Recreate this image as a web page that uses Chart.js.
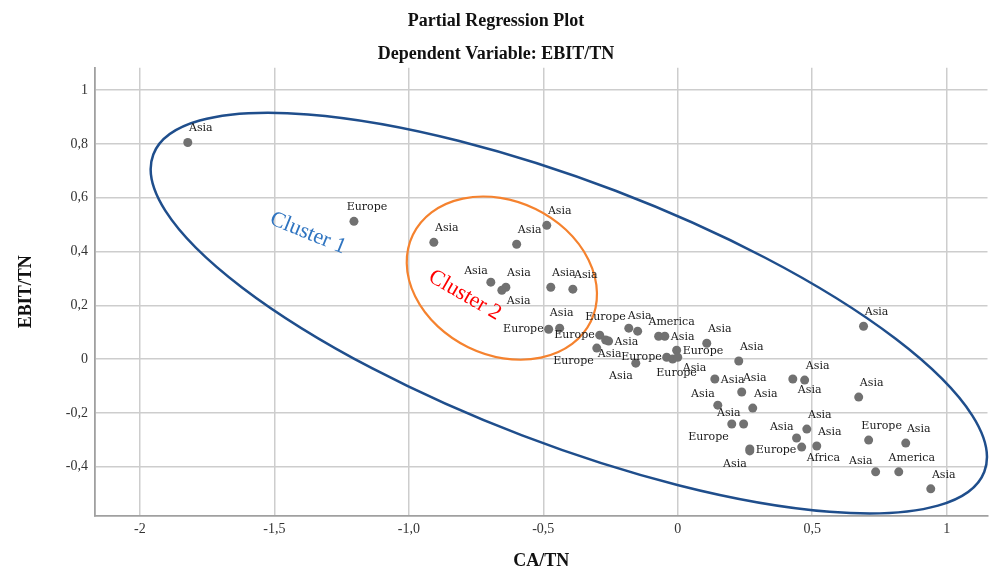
<!DOCTYPE html>
<html>
<head>
<meta charset="utf-8">
<script src="https://cdn.jsdelivr.net/npm/chart.js@4/dist/chart.umd.min.js"></script>
<style>
    html, body { margin: 0; padding: 0; background: #fff; }
    #wrap { width: 992px; height: 574px; position: relative; }
</style>
</head>
<body>
<div id="wrap"><canvas id="chart"></canvas></div>
<script>
'use strict';

// axis ticks (decimal comma as in the original)
const xTicks = [-2, -1.5, -1, -0.5, 0, 0.5, 1];
const xTickLabels = ['-2', '-1,5', '-1,0', '-0,5', '0', '0,5', '1'];
const yTicks = [-0.4, -0.2, 0, 0.2, 0.4, 0.6, 0.8, 1];
const yTickLabels = ['-0,4', '-0,2', '0', '0,2', '0,4', '0,6', '0,8', '1'];

// partial regression residuals
const caTn = [
    -1.822, -1.204, -0.907, -0.599, -0.487, -0.695, -0.639, -0.654, -0.472, -0.390,
    -0.480, -0.439, -0.290, -0.268, -0.257, -0.301, -0.182, -0.149, -0.071, -0.048,
    -0.004, -0.041, -0.019, 0.000, -0.156, 0.108, 0.227, 0.138, 0.238, 0.149,
    0.279, 0.201, 0.245, 0.268, 0.268, 0.428, 0.472, 0.480, 0.442, 0.461,
    0.517, 0.691, 0.673, 0.710, 0.848, 0.736, 0.822, 0.941
];
const ebitTn = [
    0.805, 0.512, 0.434, 0.427, 0.497, 0.286, 0.267, 0.256, 0.267, 0.260,
    0.111, 0.115, 0.089, 0.071, 0.067, 0.041, 0.115, 0.104, 0.085, 0.085,
    0.033, 0.007, 0.000, 0.007, -0.015, 0.059, -0.007, -0.074, -0.122, -0.171,
    -0.182, -0.241, -0.241, -0.334, -0.341, -0.074, -0.078, -0.260, -0.293, -0.327,
    -0.323, 0.122, -0.141, -0.301, -0.312, -0.419, -0.419, -0.482
];
const region = [
    'Asia', 'Europe', 'Asia', 'Asia', 'Asia', 'Asia', 'Asia', 'Asia', 'Asia', 'Asia',
    'Europe', 'Asia', 'Europe', 'Asia', 'Asia', 'Europe', 'Europe', 'Asia', 'America', 'Asia',
    'Europe', 'Europe', 'Europe', 'Asia', 'Asia', 'Asia', 'Asia', 'Asia', 'Asia', 'Asia',
    'Asia', 'Europe', 'Asia', 'Europe', 'Asia', 'Asia', 'Asia', 'Asia', 'Asia', 'Africa',
    'Asia', 'Asia', 'Asia', 'Europe', 'Asia', 'Asia', 'America', 'Asia'
];

// cluster ellipses (data units, tilt in degrees)
const clusterNames = ['Cluster 1', 'Cluster 2'];
const clusterCx = [-0.405, -0.654];
const clusterCy = [0.171, 0.301];
const clusterRx = [1.654, 0.368];
const clusterRy = [0.487, 0.286];
const clusterTilt = [20.9, 26];

// where each point label sits relative to its point (layout only)
const labelSpot = [
    'ne', 'ne', 'ne', 'ne', 'ne', 'nw', 'ne', 'se', 'ne', 'ne',
    'w', 'n', 'w', 's', 'e', 'sw', 'nw', 'n', 'ne', 'e',
    'e', 'w', 's', 'se', 'sw', 'ne', 'ne', 'e', 'ne', 'nw',
    'ne', 'sw', 'nw', 'e', 'sw', 'se', 'ne', 'ne', 'nw', 'se',
    'ne', 'ne', 'ne', 'ne', 'ne', 'nw', 'ne', 'ne'
];

const SERIF = '"Liberation Serif", "Times New Roman", serif';
const clusterText = [
    { x: -1.375, y: 0.468, angle: 22, color: '#2f74c0' },
    { x: -0.792, y: 0.237, angle: 30, color: '#ff0000' }
];
const clusterStroke = ['#1f4e8c', '#f5822e'];

function anchorFor(code, px, py) {
    switch (code) {
        case 'n':  return { x: px + 2, y: py - 15, align: 'center' };
        case 'nw': return { x: px - 3, y: py - 11, align: 'right' };
        case 'e':  return { x: px + 6, y: py + 1, align: 'left' };
        case 'w':  return { x: px - 5, y: py, align: 'right' };
        case 'se': return { x: px + 5, y: py + 11, align: 'left' };
        case 'sw': return { x: px - 3, y: py + 13, align: 'right' };
        case 's':  return { x: px + 4, y: py + 14, align: 'center' };
        default:   return { x: px + 13, y: py - 14, align: 'center' };
    }
}

const overlay = {
    id: 'overlay',
    afterDatasetsDraw(chart) {
        const { ctx, scales: { x, y } } = chart;
        const ppu = x.getPixelForValue(1) - x.getPixelForValue(0);

        clusterNames.forEach((name, i) => {
            ctx.save();
            ctx.beginPath();
            ctx.ellipse(
                x.getPixelForValue(clusterCx[i]), y.getPixelForValue(clusterCy[i]),
                clusterRx[i] * ppu, clusterRy[i] * ppu,
                clusterTilt[i] * Math.PI / 180, 0, Math.PI * 2
            );
            ctx.strokeStyle = clusterStroke[i];
            ctx.lineWidth = i === 0 ? 2.5 : 2.2;
            ctx.stroke();

            const t = clusterText[i];
            ctx.translate(x.getPixelForValue(t.x), y.getPixelForValue(t.y));
            ctx.rotate(t.angle * Math.PI / 180);
            ctx.fillStyle = t.color;
            ctx.font = '22px ' + SERIF;
            ctx.textAlign = 'center';
            ctx.textBaseline = 'middle';
            ctx.fillText(name, 0, 0);
            ctx.restore();
        });

        const meta = chart.getDatasetMeta(0);
        ctx.save();
        ctx.font = '11px "DejaVu Serif", serif';
        ctx.fillStyle = '#1a1a1a';
        ctx.textBaseline = 'middle';
        meta.data.forEach((pt, i) => {
            const a = anchorFor(labelSpot[i], pt.x, pt.y);
            ctx.textAlign = a.align;
            ctx.fillText(region[i], a.x, a.y);
        });
        ctx.restore();
    }
};

const points = caTn.map((v, i) => ({ x: v, y: ebitTn[i] }));

new Chart(document.getElementById('chart'), {
    type: 'scatter',
    data: {
        datasets: [{
            data: points,
            backgroundColor: '#717171',
            borderWidth: 0,
            pointRadius: 4.5,
            pointHoverRadius: 4.5
        }]
    },
    options: {
        responsive: true,
        maintainAspectRatio: false,
        animation: false,
        events: [],
        layout: { padding: 0 },
        plugins: {
            legend: { display: false },
            tooltip: { enabled: false },
            title: {
                display: true,
                text: ['Partial Regression Plot', 'Dependent Variable: EBIT/TN'],
                color: '#111',
                font: { family: SERIF, size: 18, weight: 'bold', lineHeight: 1.88 },
                padding: { top: 4, bottom: -4 }
            }
        },
        scales: {
            x: {
                type: 'linear',
                min: -2.167,
                max: 1.152,
                afterBuildTicks: s => { s.ticks = xTicks.map(v => ({ value: v })); },
                afterFit: s => { s.height = 58; },
                ticks: {
                    callback: v => xTickLabels[xTicks.indexOf(v)],
                    color: '#333',
                    font: { family: SERIF, size: 14 },
                    padding: 5,
                    maxRotation: 0
                },
                grid: { color: '#cdcdcd', lineWidth: 1.5, drawTicks: false },
                border: { display: true, color: '#a0a0a0', width: 1.8 },
                title: {
                    display: true,
                    text: 'CA/TN',
                    color: '#111',
                    font: { family: SERIF, size: 18, weight: 'bold' },
                    padding: { top: 0, bottom: 2 }
                }
            },
            y: {
                type: 'linear',
                min: -0.583,
                max: 1.083,
                afterBuildTicks: s => { s.ticks = yTicks.map(v => ({ value: v })); },
                afterFit: s => { s.width = 95; },
                ticks: {
                    callback: v => yTickLabels[yTicks.indexOf(v)],
                    color: '#333',
                    font: { family: SERIF, size: 14 },
                    padding: 7
                },
                grid: { color: '#cdcdcd', lineWidth: 1.5, drawTicks: false },
                border: { display: true, color: '#a0a0a0', width: 1.8 },
                title: {
                    display: true,
                    text: 'EBIT/TN',
                    color: '#111',
                    font: { family: SERIF, size: 18, weight: 'bold' },
                    padding: { top: 16, bottom: 0 }
                }
            }
        }
    },
    plugins: [overlay]
});
</script>
</body>
</html>
